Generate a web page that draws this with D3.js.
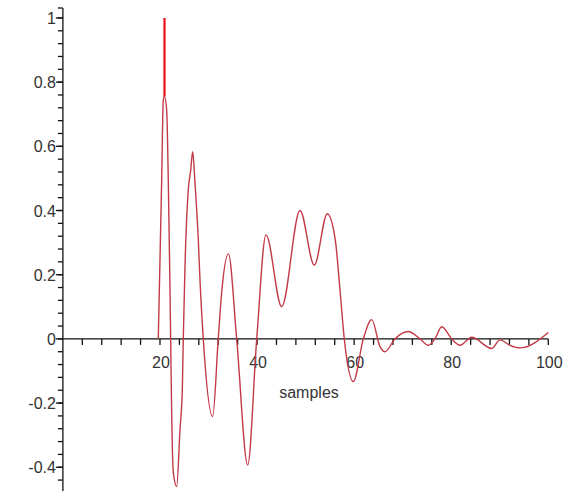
<!DOCTYPE html>
<html>
<head>
<meta charset="utf-8">
<script src="https://cdn.jsdelivr.net/npm/d3@7"></script>
<style>
  body { margin: 0; background: #fff; }
  text { font-family: "Liberation Sans", Arial, sans-serif; fill: #333; }
</style>
</head>
<body>
<div id="the_chart"></div>
<script>
// sample index and amplitude (signal is zero before ~19.6)
var samples = [19.65, 20.0, 20.35, 20.68, 20.93, 21.38, 21.71, 22.06, 22.2, 22.41, 22.75, 23.44, 24.12, 24.6, 24.8,
    25.15, 25.83, 26.33, 26.74, 27.21, 27.9, 28.24, 28.92, 30.86, 32.0, 32.7, 34.1, 35.8, 38.07, 39.93, 41.84,
    45.08, 48.85, 51.79, 54.47, 56.1, 57.1, 57.97, 59.83, 61.89, 63.62, 65.33, 66.36, 68.4, 71.16, 73.57, 75.28,
    76.66, 78.04, 80.1, 81.81, 84.22, 88.34, 90.05, 92.1, 94.2, 100];
var amplitude = [0, 0.246, 0.495, 0.745, 0.755, 0.713, 0.495, 0.162, 0, -0.23, -0.417, -0.46, -0.283, -0.159, 0,
    0.224, 0.464, 0.526, 0.583, 0.486, 0.308, 0.184, 0, -0.242, 0, 0.143, 0.265, 0, -0.393, 0, 0.324,
    0.10, 0.40, 0.23, 0.39, 0.31, 0.15, 0, -0.133, 0, 0.06, -0.024, -0.04, 0, 0.023, 0, -0.02,
    0, 0.038, 0, -0.02, 0.005, -0.03, -0.003, -0.02, -0.028, 0.02];
// the impulse on top of the first peak
var spikeAt = 20.93;
var spikeRange = [0.755, 1];

var xLabels = [20, 40, 60, 80, 100];
var yLabels = [-0.4, -0.2, 0, 0.2, 0.4, 0.6, 0.8, 1];

var w = 568;
var h = 491;

var svg = d3.select("#the_chart")
    .append("svg")
    .attr("width", w)
    .attr("height", h);

var x = d3.scaleLinear().domain([0, 100]).range([62.9, 548.3]);
var y = d3.scaleLinear().domain([-0.474, 1.031]).range([491, 8]);

var x0 = x(0);
var y0 = y(0);

// y axis
svg.append("line")
    .attr("x1", x0).attr("x2", x0)
    .attr("y1", y(1.031)).attr("y2", h)
    .attr("stroke", "#111").attr("stroke-width", 1.3);

svg.append("line") // little cap at top of axis
    .attr("x1", x0 - 5).attr("x2", x0)
    .attr("y1", y(1.031)).attr("y2", y(1.031))
    .attr("stroke", "#111").attr("stroke-width", 1.3);

var yMinor = d3.range(-12, 26).map(function (k) { return k * 0.04; });
svg.selectAll(".ymin")
    .data(yMinor)
    .enter()
    .append("line")
    .attr("x1", x0 - 5).attr("x2", x0)
    .attr("y1", function (d) { return y(d); })
    .attr("y2", function (d) { return y(d); })
    .attr("stroke", "#111").attr("stroke-width", 1.3);

svg.selectAll(".ymaj")
    .data(yLabels)
    .enter()
    .append("line")
    .attr("x1", x0 - 7).attr("x2", x0)
    .attr("y1", function (d) { return y(d); })
    .attr("y2", function (d) { return y(d); })
    .attr("stroke", "#111").attr("stroke-width", 1.3);

svg.selectAll(".ylab")
    .data(yLabels)
    .enter()
    .append("text")
    .attr("x", x0 - 7)
    .attr("y", function (d) { return y(d) + 6; })
    .attr("text-anchor", "end")
    .attr("font-size", 16)
    .text(function (d) { return d; });

// x axis
svg.append("line")
    .attr("x1", x0).attr("x2", x(100))
    .attr("y1", y0).attr("y2", y0)
    .attr("stroke", "#111").attr("stroke-width", 1.3);

var xMinor = d3.range(1, 26).map(function (k) { return k * 4; });
svg.selectAll(".xmin")
    .data(xMinor)
    .enter()
    .append("line")
    .attr("x1", function (d) { return x(d); })
    .attr("x2", function (d) { return x(d); })
    .attr("y1", y0).attr("y2", y0 + 6)
    .attr("stroke", "#111").attr("stroke-width", 1.3);

svg.selectAll(".xlab")
    .data(xLabels)
    .enter()
    .append("text")
    .attr("x", function (d) { return x(d) + 1; })
    .attr("y", y0 + 29)
    .attr("text-anchor", "middle")
    .attr("font-size", 16)
    .text(function (d) { return d; });

svg.append("text")
    .attr("x", 309)
    .attr("y", 398)
    .attr("text-anchor", "middle")
    .attr("font-size", 16)
    .text("samples");

// the signal
var pts = samples.map(function (s, i) { return [s, amplitude[i]]; });
var line = d3.line()
    .x(function (d) { return x(d[0]); })
    .y(function (d) { return y(d[1]); })
    .curve(d3.curveMonotoneX);

svg.append("path")
    .datum(pts)
    .attr("d", line)
    .attr("fill", "none")
    .attr("stroke", "#c23a48")
    .attr("stroke-width", 1.4);

svg.append("line")
    .attr("x1", x(spikeAt)).attr("x2", x(spikeAt))
    .attr("y1", y(spikeRange[0])).attr("y2", y(spikeRange[1]))
    .attr("stroke", "#e8101a")
    .attr("stroke-width", 2.2);
</script>
</body>
</html>
